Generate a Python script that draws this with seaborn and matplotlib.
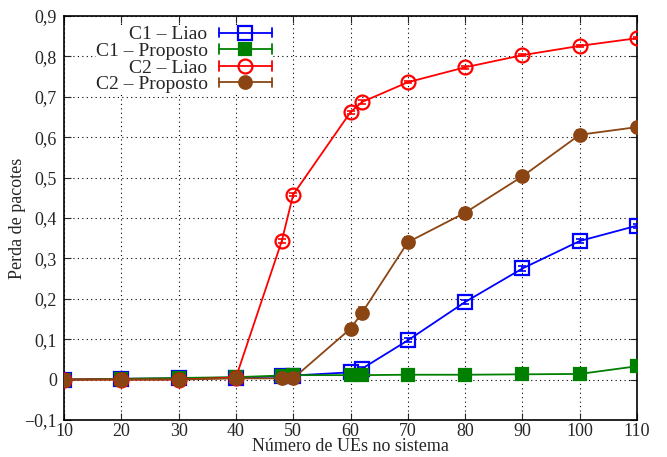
import matplotlib
matplotlib.use("Agg")
import matplotlib.pyplot as plt
import matplotlib.ticker as mticker
from matplotlib.legend_handler import HandlerBase
from matplotlib.lines import Line2D
import seaborn as sns
import pandas as pd

x = [10, 20, 30, 40, 48, 50, 60, 62, 70, 80, 90, 100, 110]
c1_liao = [0.0, 0.002, 0.003, 0.005, 0.008, 0.010, 0.018, 0.027, 0.097, 0.192, 0.275, 0.343, 0.381]
c1_prop = [0.0, 0.002, 0.004, 0.006, 0.010, 0.011, 0.011, 0.011, 0.012, 0.012, 0.013, 0.014, 0.033]
c2_liao = [0.0, 0.0, 0.0, 0.005, 0.343, 0.458, 0.662, 0.687, 0.736, 0.773, 0.803, 0.826, 0.845]
c2_prop = [0.0, 0.0, 0.0, 0.003, 0.003, 0.003, 0.126, 0.165, 0.340, 0.413, 0.503, 0.606, 0.625]
err_c1_liao = [0.0, 0.001, 0.001, 0.001, 0.001, 0.001, 0.002, 0.003, 0.005, 0.005, 0.006, 0.005, 0.005]
err_c1_prop = [0.0, 0.001, 0.001, 0.001, 0.001, 0.001, 0.001, 0.001, 0.001, 0.001, 0.001, 0.001, 0.002]
err_c2_liao = [0.0, 0.0, 0.0, 0.002, 0.004, 0.004, 0.004, 0.004, 0.003, 0.003, 0.003, 0.003, 0.003]
err_c2_prop = [0.0, 0.0, 0.0, 0.001, 0.001, 0.001, 0.012, 0.015, 0.012, 0.012, 0.012, 0.012, 0.008]

labels = ["C1 – Liao", "C1 – Proposto", "C2 – Liao", "C2 – Proposto"]
series = [c1_liao, c1_prop, c2_liao, c2_prop]
errs = [err_c1_liao, err_c1_prop, err_c2_liao, err_c2_prop]
colors = ["#0000ff", "#008000", "#ff0000", "#8b4513"]
markers = ["s", "s", "o", "o"]
filled = [False, True, False, True]
msizes = [10, 9, 10, 9]

sns.set_style("ticks")
plt.rcParams["font.family"] = ["Liberation Serif", "DejaVu Serif"]


class ErrHandler(HandlerBase):
    def create_artists(self, legend, orig, xd, yd, width, height, fontsize, trans):
        y = height / 2 - yd
        x0, x1 = -xd, -xd + width
        c = orig.get_color()
        cap = height * 0.35
        arts = [
            Line2D([x0, x1], [y, y], color=c, lw=1.3),
            Line2D([x0, x0], [y - cap, y + cap], color=c, lw=1.3),
            Line2D([x1, x1], [y - cap, y + cap], color=c, lw=1.3),
            Line2D([(x0 + x1) / 2], [y], marker=orig.get_marker(),
                   markersize=orig.get_markersize(),
                   markerfacecolor=orig.get_markerfacecolor(),
                   markeredgecolor=c, markeredgewidth=1.6, linestyle="none"),
        ]
        for a in arts:
            a.set_transform(trans)
        return arts


fig = plt.figure(figsize=(6.67, 4.57), dpi=100)
ax = fig.add_axes([0.096, 0.081, 0.859, 0.884])

df = pd.DataFrame({
    "x": x * 4,
    "y": sum(series, []),
    "s": sum([[l] * len(x) for l in labels], []),
})

handles = []
for i, lab in enumerate(labels):
    sub = df[df["s"] == lab]
    sns.lineplot(data=sub, x="x", y="y", ax=ax, color=colors[i], lw=1.3,
                 marker=markers[i], markersize=msizes[i],
                 markerfacecolor=colors[i] if filled[i] else "none",
                 markeredgecolor=colors[i], markeredgewidth=1.6,
                 legend=False, zorder=3 + i)
    ax.errorbar(x, series[i], yerr=errs[i], fmt="none", ecolor=colors[i],
                elinewidth=1.2, capsize=3, capthick=1.2, zorder=3 + i)
    handles.append(Line2D([], [], color=colors[i], marker=markers[i],
                          markersize=msizes[i],
                          markerfacecolor=colors[i] if filled[i] else "none"))

ax.set_xlim(10, 110)
ax.set_ylim(-0.1, 0.9)
ax.set_xticks([10, 20, 30, 40, 50, 60, 70, 80, 90, 100, 110])
ax.set_yticks([-0.1, 0, 0.1, 0.2, 0.3, 0.4, 0.5, 0.6, 0.7, 0.8, 0.9])
ax.yaxis.set_major_formatter(mticker.FuncFormatter(
    lambda v, p: "0" if abs(v) < 1e-9 else f"{v:.1f}".replace(".", ",").replace("-", "\u2212")))
ax.tick_params(direction="in", top=True, right=True, labelsize=13, length=5)
ax.tick_params(axis="x", pad=2)
ax.tick_params(axis="y", pad=5)
ax.grid(True, color="black", linestyle=(0, (1, 3)), linewidth=0.8)
for s in ax.spines.values():
    s.set_linewidth(1.2)
    s.set_color("black")
ax.set_xlabel("Número de UEs no sistema", fontsize=13, labelpad=-1)
ax.set_ylabel("Perda de pacotes", fontsize=13)
ax.yaxis.set_label_coords(-0.066, 0.5)

leg = ax.legend(handles=handles, labels=labels, loc="upper left",
                bbox_to_anchor=(0.038, 1.0), markerfirst=False, frameon=True,
                fontsize=14, handlelength=2.7, labelspacing=-0.05,
                borderpad=0.0, handletextpad=0.6,
                handler_map={Line2D: ErrHandler()})
leg.get_frame().set_edgecolor("none")
leg.get_frame().set_facecolor("white")
leg.get_frame().set_alpha(1)
leg.set_zorder(2.0)

fig.savefig("out.png", dpi=100)
